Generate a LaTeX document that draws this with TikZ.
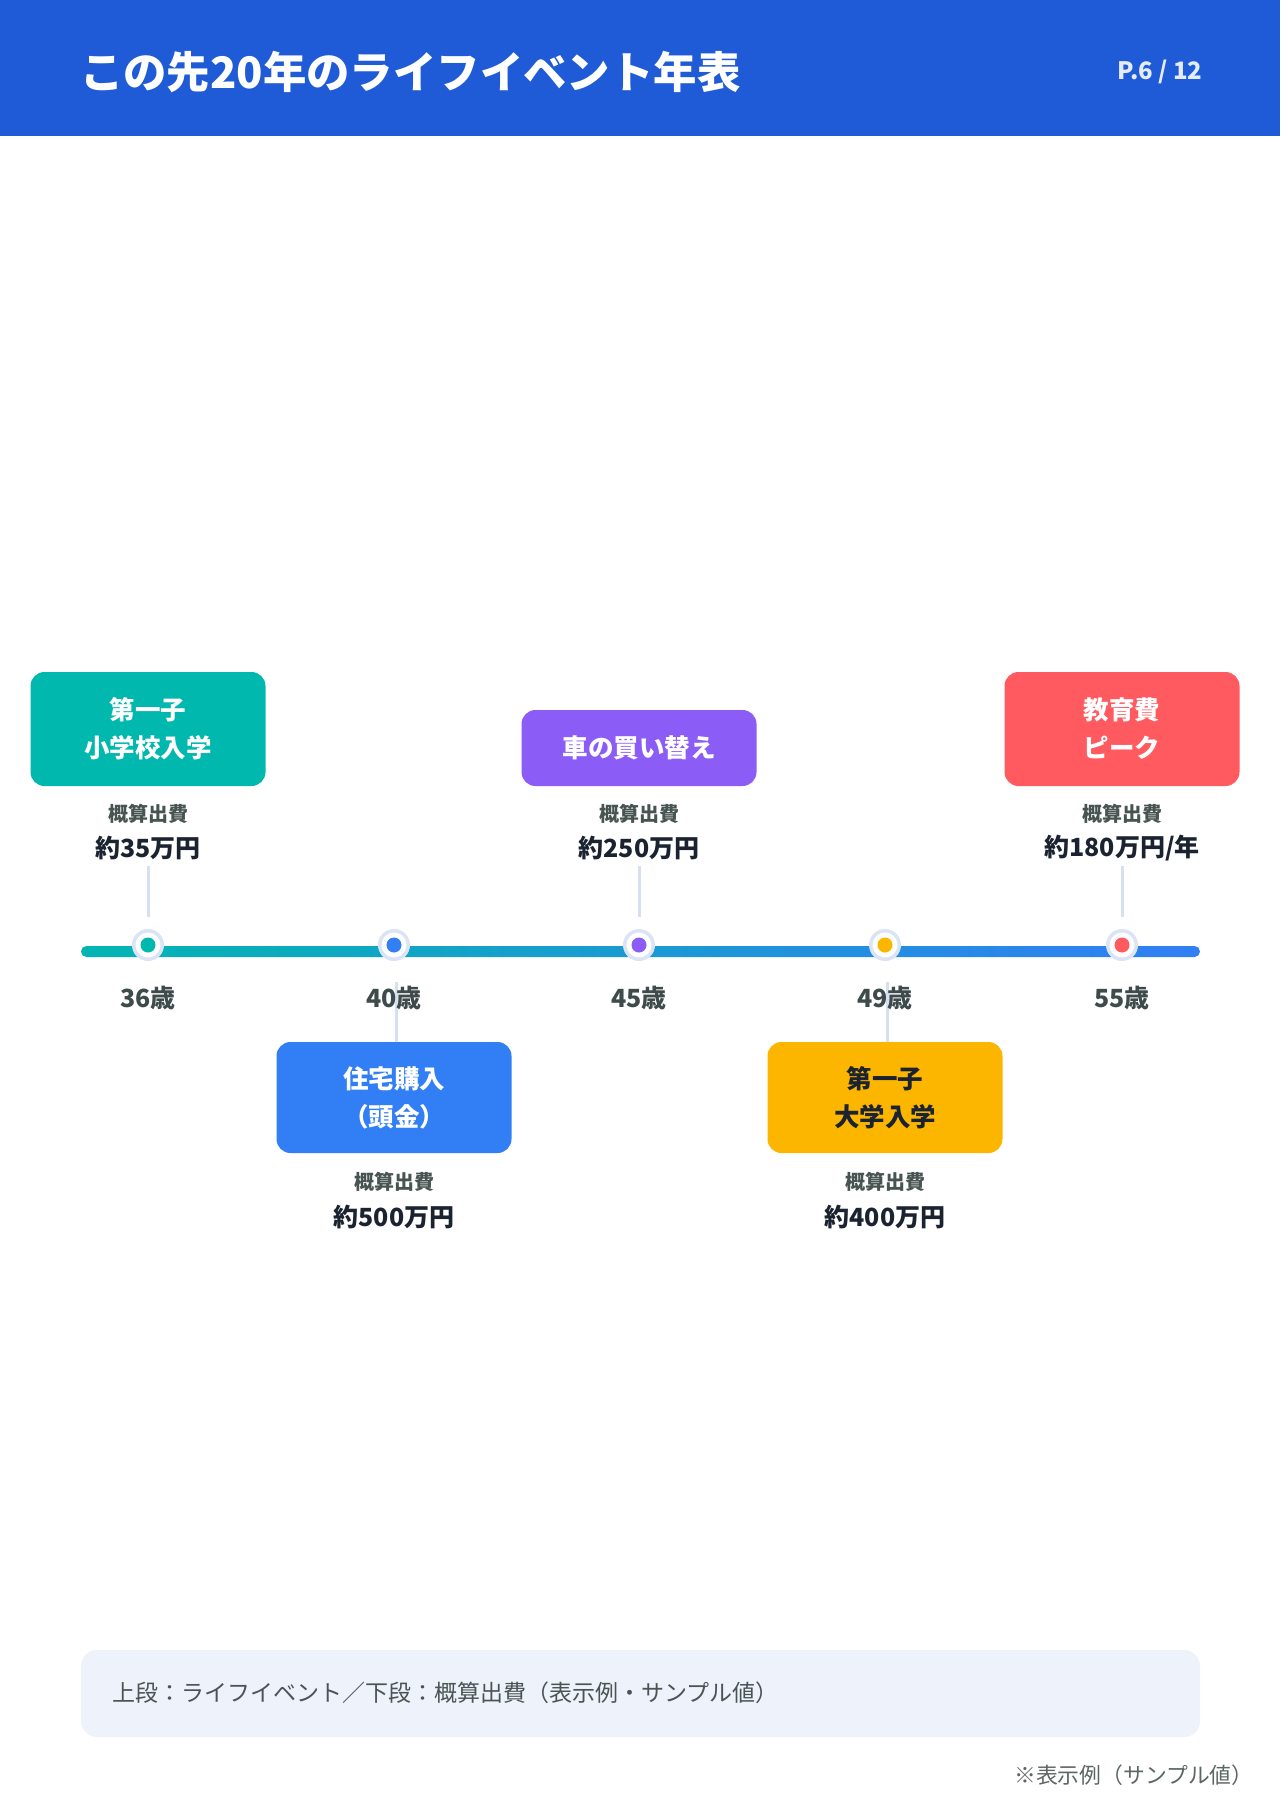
\documentclass[tikz,border=0pt]{standalone}
\usepackage{fontspec}
\setmainfont{Noto Sans CJK JP}
\usepackage{xcolor}
\usepackage{tikz}
\definecolor{headblue}{RGB}{31,91,214}
\definecolor{evteal}{RGB}{0,184,174}
\definecolor{evblue}{RGB}{49,126,245}
\definecolor{evpurple}{RGB}{139,92,246}
\definecolor{evamber}{RGB}{253,182,0}
\definecolor{evred}{RGB}{255,90,95}
\definecolor{ringgray}{RGB}{219,228,244}
\definecolor{stemgray}{RGB}{214,224,240}
\definecolor{labelgray}{RGB}{72,84,82}
\definecolor{valuedark}{RGB}{27,34,48}
\definecolor{agegray}{RGB}{62,75,74}
\definecolor{notebg}{RGB}{238,242,251}
\definecolor{notegray}{RGB}{74,85,83}

\begin{document}
\begin{tikzpicture}[x=1pt,y=-1pt,
    evbox/.style={rounded corners=14pt, minimum width=235pt, align=center,
      inner sep=0pt, text=white, font=\fontsize{25.5}{38}\selectfont\bfseries},
    ring/.style={circle, draw=ringgray, line width=3.5pt, fill=white,
      minimum size=28.5pt, inner sep=0pt},
    stem/.style={draw=stemgray, line width=3pt},
    costlbl/.style={text=labelgray, font=\fontsize{20}{24}\selectfont\bfseries},
    costval/.style={text=valuedark, font=\fontsize{25}{30}\selectfont\bfseries},
    agelbl/.style={text=agegray, font=\fontsize{25}{30}\selectfont\bfseries}]
  \useasboundingbox (0,0) rectangle (1280,1810);
  \fill[white] (0,0) rectangle (1280,1810);

  % header
  \fill[headblue] (0,0) rectangle (1280,136);
  \node[anchor=west, text=white, font=\fontsize{43.4}{50}\selectfont\bfseries]
    (title) at (76.5,72) {この先20年のライフイベント年表};
  \node[anchor=east, text=white!88!headblue, font=\fontsize{24}{28}\selectfont\bfseries]
    (page) at (1206,72) {P.6 / 12};

  % timeline bar
  \shade[left color=evteal!95!evblue, right color=evblue, rounded corners=5.5pt]
    (81,946) rectangle (1200,957);

  % markers
  \foreach \n/\x/\c in {36/148/evteal, 40/394/evblue, 45/639/evpurple,
                        49/885/evamber, 55/1122/evred} {
    \node[ring] (m\n) at (\x,945) {};
    \fill[\c] (m\n.center) circle (7.5pt);
  }

  % event boxes
  \node[evbox, fill=evteal, minimum height=114pt] (ev36) at (148,729)
    {第一子\\小学校入学};
  \node[evbox, fill=evpurple, minimum height=76pt] (ev45) at (639,748)
    {車の買い替え};
  \node[evbox, fill=evred, minimum height=114pt] (ev55) at (1122,729)
    {教育費\\ピーク};
  \node[evbox, fill=evblue, minimum height=111pt] (ev40) at (394,1097.5)
    {住宅購入\\（頭金）};
  \node[evbox, fill=evamber, minimum height=111pt, text=valuedark] (ev49) at (885,1097.5)
    {第一子\\大学入学};

  % costs
  \node[costlbl] (c36) at (148,814) {概算出費};
  \node[costval] (v36) at (148,848) {約35万円};
  \node[costlbl] (c45) at (639,814) {概算出費};
  \node[costval] (v45) at (639,848) {約250万円};
  \node[costlbl] (c55) at (1122,814) {概算出費};
  \node[costval] (v55) at (1122,848) {約180万円/年};
  \node[costlbl] (c40) at (394,1182) {概算出費};
  \node[costval] (v40) at (394,1217) {約500万円};
  \node[costlbl] (c49) at (885,1182) {概算出費};
  \node[costval] (v49) at (885,1217) {約400万円};

  % stems
  \draw[stem] ([yshift=-18pt]v36.center) -- ([yshift=28pt]m36.center);
  \draw[stem] ([yshift=-18pt]v45.center) -- ([yshift=28pt]m45.center);
  \draw[stem] ([yshift=-18pt]v55.center) -- ([yshift=28pt]m55.center);
  \draw[stem] ([xshift=2pt,yshift=-37pt]m40.center) -- ([xshift=2pt]ev40.north);
  \draw[stem] ([xshift=2pt,yshift=-37pt]m49.center) -- ([xshift=2pt]ev49.north);

  % ages
  \foreach \n/\x in {36/148, 40/394, 45/639, 49/885, 55/1122}
    \node[agelbl] (a\n) at (\x,998) {\n{}歳};

  % note
  \node[fill=notebg, rounded corners=16pt, minimum width=1119pt, minimum height=87pt,
        inner sep=0pt] (note) at (640.5,1693.5) {};
  \node[anchor=west, text=notegray, font=\fontsize{23}{26}\selectfont]
    (notetxt) at (108.5,1693) {上段：ライフイベント／下段：概算出費（表示例・サンプル値）};
  \node[anchor=east, text=notegray!90!white, font=\fontsize{21.8}{24}\selectfont]
    (sample) at (1257,1775) {※表示例（サンプル値）};
\end{tikzpicture}
\end{document}
